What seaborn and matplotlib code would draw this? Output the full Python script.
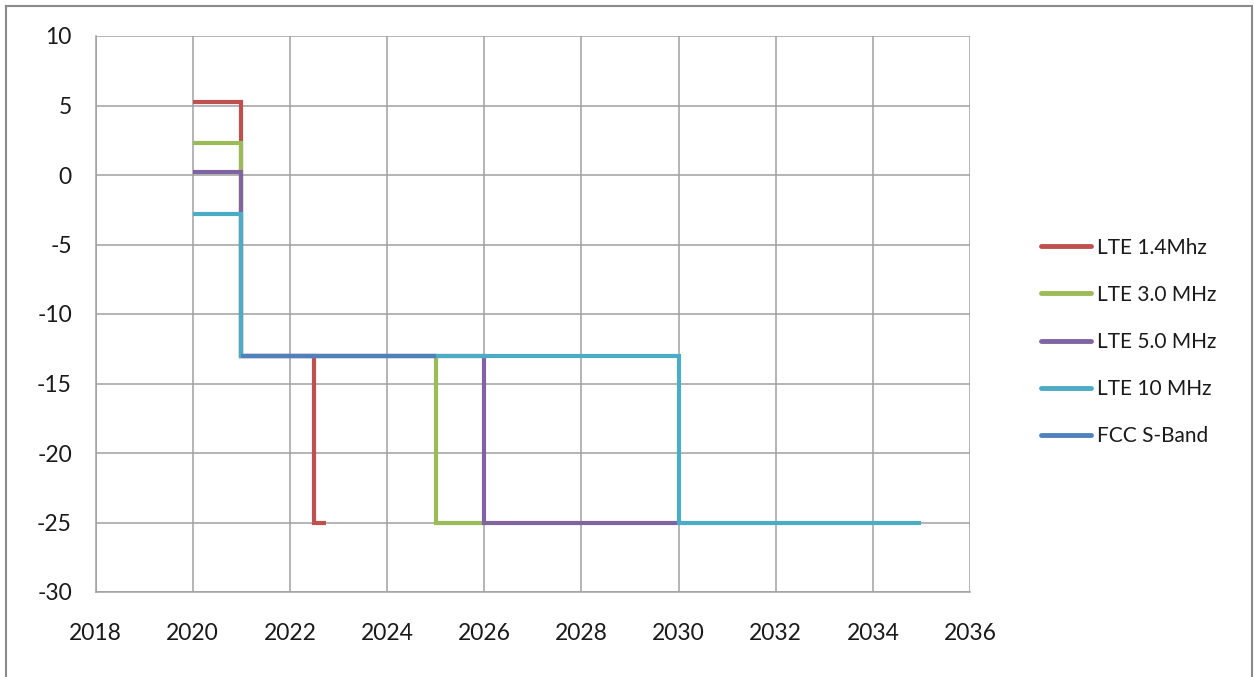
import matplotlib
matplotlib.use("Agg")
import matplotlib.pyplot as plt
from matplotlib.patches import Rectangle
import seaborn as sns
import pandas as pd

# Step profiles (year, level) for each emission mask
series_names = ["LTE 1.4Mhz", "LTE 3.0 MHz", "LTE 5.0 MHz", "LTE 10 MHz", "FCC S-Band"]

lte14_years = [2020, 2021, 2021, 2022.5, 2022.5, 2022.75]
lte14_level = [5.25, 5.25, -13, -13, -25, -25]

lte30_years = [2020, 2021, 2021, 2025, 2025, 2026]
lte30_level = [2.3, 2.3, -13, -13, -25, -25]

lte50_years = [2020, 2021, 2021, 2026, 2026, 2030]
lte50_level = [0.25, 0.25, -13, -13, -25, -25]

lte10_years = [2020, 2021, 2021, 2030, 2030, 2035]
lte10_level = [-2.8, -2.8, -13, -13, -25, -25]

fcc_years = [2021, 2025]
fcc_level = [-13, -13]

x_ticks = list(range(2018, 2037, 2))
y_ticks = list(range(-30, 11, 5))

colors = ["#C0504D", "#9BBB59", "#8064A2", "#4BACC6", "#4F81BD"]

frames = []
for name, xs, ys in zip(series_names,
                        [lte14_years, lte30_years, lte50_years, lte10_years, fcc_years],
                        [lte14_level, lte30_level, lte50_level, lte10_level, fcc_level]):
    frames.append(pd.DataFrame({"year": xs, "level": ys, "series": name}))
df = pd.concat(frames, ignore_index=True)

sns.set_theme(style="white")
plt.rcParams["font.family"] = ["Lato", "DejaVu Sans"]
plt.rcParams["axes.unicode_minus"] = False

fig = plt.figure(figsize=(12.54, 6.77), dpi=100)
ax = fig.add_axes([95.5 / 1254, 1 - 592 / 677, (970 - 95.5) / 1254, (592 - 36) / 677])

sns.lineplot(data=df, x="year", y="level", hue="series", hue_order=series_names,
             palette=colors, sort=False, estimator=None, units="series",
             linewidth=3.0, ax=ax, legend=True)

ax.set_xlim(2018, 2036)
ax.set_ylim(-30, 10)
ax.set_xticks(x_ticks)
ax.set_yticks(y_ticks)
ax.set_xlabel("")
ax.set_ylabel("")

grid_color = "#a0a0a0"
ax.grid(True, color=grid_color, linewidth=1.1)
ax.set_axisbelow(True)
for side in ["top", "right"]:
    ax.spines[side].set_visible(False)
for side in ["left", "bottom"]:
    ax.spines[side].set_color(grid_color)
    ax.spines[side].set_linewidth(1.1)

ax.tick_params(axis="both", which="major", direction="out", length=5,
               width=1.1, color=grid_color, labelsize=16.5, labelcolor="#1a1a1a")
ax.tick_params(axis="y", pad=12)
ax.tick_params(axis="x", pad=17)

for line in ax.get_lines():
    line.set_solid_capstyle("butt")
    line.set_solid_joinstyle("miter")

handles, labels = ax.get_legend_handles_labels()
leg = ax.legend(handles, labels, loc="center left", bbox_to_anchor=(1.072, 0.45),
                frameon=False, fontsize=15, handlelength=2.4, handletextpad=0.25,
                labelspacing=1.3, borderaxespad=0)
for h in leg.get_lines():
    h.set_linewidth(3.5)
    h.set_solid_capstyle("round")
for t in leg.get_texts():
    t.set_color("#1a1a1a")

# Outer chart frame
fig.patches.append(Rectangle((6 / 1254, -0.05), (1252 - 6) / 1254, 1.05 - 6 / 677,
                             transform=fig.transFigure, fill=False,
                             edgecolor="#8a8a8a", linewidth=1.5))

fig.savefig("out.png", dpi=100)
